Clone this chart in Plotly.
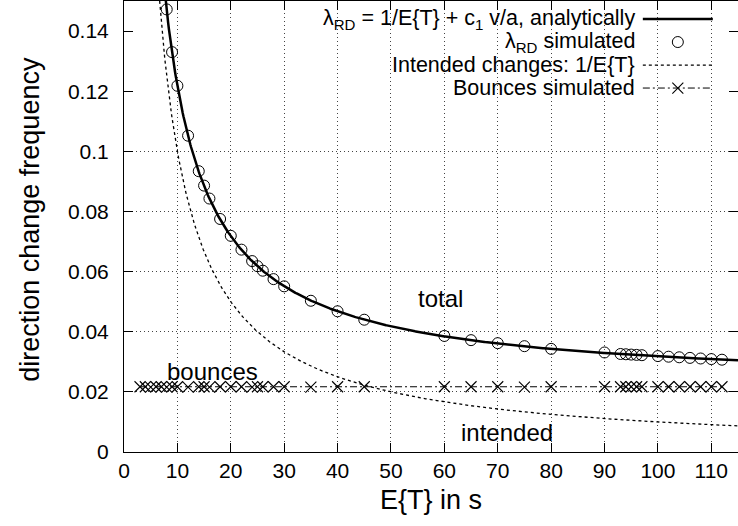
import numpy as np
import plotly.graph_objects as go

# ---------------- data ----------------
C1_V_OVER_A = 0.0218   # bounce contribution c1 v/a (constant)

# simulated total direction-change frequency lambda_RD
sim_T = [8, 9, 10, 12, 14, 15, 16, 18, 20, 22, 24, 25, 26, 28, 30, 35, 40, 45,
         60, 65, 70, 75, 80, 90, 93, 94, 95, 96, 97,
         100, 102, 104, 106, 108, 110, 112]
sim_lambda = [0.1472, 0.1330, 0.1218, 0.1052, 0.0934, 0.0886, 0.0843, 0.0775, 0.0719,
              0.0673, 0.0635, 0.0618, 0.0603, 0.0575, 0.0551, 0.0503, 0.0468, 0.0440,
              0.0386, 0.0372, 0.0362, 0.0352, 0.0343, 0.0331, 0.0326, 0.0325, 0.0324,
              0.0323, 0.0322, 0.0319, 0.0317, 0.0315, 0.0313, 0.0311, 0.0309, 0.0307]

# simulated bounce frequency
bounce_T = [3, 4, 5, 6, 7, 8, 9, 10, 12, 14, 15, 16, 18, 20, 22, 24, 25, 26, 28, 30,
            35, 40, 45, 60, 65, 70, 75, 80, 90, 93, 94, 95, 96, 97,
            100, 102, 104, 106, 108, 110, 112]
bounce_rate = [0.0217, 0.0217, 0.0216, 0.0217, 0.0217, 0.0216, 0.0217, 0.0217, 0.0216, 0.0217,
               0.0217, 0.0216, 0.0217, 0.0217, 0.0217, 0.0216, 0.0217, 0.0217, 0.0217, 0.0217,
               0.0216, 0.0217, 0.0217, 0.0217, 0.0217, 0.0217, 0.0216, 0.0217, 0.0217, 0.0217,
               0.0217, 0.0217, 0.0217, 0.0217, 0.0217, 0.0217, 0.0217, 0.0217, 0.0217, 0.0217,
               0.0217]

# axis ticks
x_ticks = [0, 10, 20, 30, 40, 50, 60, 70, 80, 90, 100, 110]
y_ticks = [0, 0.02, 0.04, 0.06, 0.08, 0.1, 0.12, 0.14]
y_tick_labels = ["0", "0.02", "0.04", "0.06", "0.08", "0.1", "0.12", "0.14"]
y_grid = [0.02, 0.04, 0.06, 0.08, 0.1]
X_RANGE = [0, 115]
Y_RANGE = [0, 0.15]

legend_labels = ["λ<sub>RD</sub> = 1/E{T} + c<sub>1</sub> v/a, analytically",
                 "λ<sub>RD</sub> simulated",
                 "Intended changes: 1/E{T}",
                 "Bounces simulated"]

# analytic function curves (sampled like gnuplot does)
T_fun = np.linspace(1, 115, 800)
lam_analytic = 1.0 / T_fun + C1_V_OVER_A
lam_intended = 1.0 / T_fun

# ---------------- style ----------------
FONT = "Liberation Sans, Arial, Helvetica, sans-serif"
TICK_FS = 21
KEY_FS = 21.5
ANN_FS = 24
TITLE_FS = 27
GRID_COLOR = "#444444"
GRID_DASH = "1px,3px"
BOUNCE_DASH = "7px,3px,2px,3px"
DOT_DASH = "3px,3px"

fig = go.Figure()

fig.add_trace(go.Scatter(x=T_fun, y=lam_analytic, mode="lines",
                         line=dict(color="black", width=2.5), showlegend=False))
fig.add_trace(go.Scatter(x=sim_T, y=sim_lambda, mode="markers",
                         marker=dict(symbol="circle-open", size=11, color="black",
                                     line=dict(width=1, color="black")),
                         showlegend=False, cliponaxis=True))
fig.add_trace(go.Scatter(x=T_fun, y=lam_intended, mode="lines",
                         line=dict(color="black", width=1.3, dash=DOT_DASH), showlegend=False))
fig.add_trace(go.Scatter(x=bounce_T, y=bounce_rate, mode="lines+markers",
                         line=dict(color="black", width=1, dash=BOUNCE_DASH),
                         marker=dict(symbol="x-thin-open", size=11, color="black",
                                     line=dict(width=1.1, color="black")),
                         showlegend=False, cliponaxis=True))

# ---- manual gnuplot-style key (text right, sample on the right) on hidden overlay axes ----
KEY_TEXT_X = 0.836
KEY_X0, KEY_X1 = 0.845, 0.959
KEY_ROWS = [0.960, 0.909, 0.858, 0.807]
key_mid = (KEY_X0 + KEY_X1) / 2

fig.add_trace(go.Scatter(x=[KEY_X0, KEY_X1], y=[KEY_ROWS[0]] * 2, mode="lines",
                         line=dict(color="black", width=2.5), xaxis="x2", yaxis="y2",
                         showlegend=False))
fig.add_trace(go.Scatter(x=[key_mid], y=[KEY_ROWS[1]], mode="markers",
                         marker=dict(symbol="circle-open", size=11, color="black",
                                     line=dict(width=1, color="black")),
                         xaxis="x2", yaxis="y2", showlegend=False))
fig.add_trace(go.Scatter(x=[KEY_X0, KEY_X1], y=[KEY_ROWS[2]] * 2, mode="lines",
                         line=dict(color="black", width=1.3, dash=DOT_DASH),
                         xaxis="x2", yaxis="y2", showlegend=False))
fig.add_trace(go.Scatter(x=[KEY_X0, KEY_X1], y=[KEY_ROWS[3]] * 2, mode="lines",
                         line=dict(color="black", width=1, dash=BOUNCE_DASH),
                         xaxis="x2", yaxis="y2", showlegend=False))
fig.add_trace(go.Scatter(x=[key_mid], y=[KEY_ROWS[3]], mode="markers",
                         marker=dict(symbol="x-thin-open", size=11, color="black",
                                     line=dict(width=1.1, color="black")),
                         xaxis="x2", yaxis="y2", showlegend=False))

annotations = []
for lab, yy in zip(legend_labels, KEY_ROWS):
    annotations.append(dict(x=KEY_TEXT_X, y=yy, xref="paper", yref="paper", text=lab,
                            showarrow=False, xanchor="right", yanchor="middle",
                            font=dict(size=KEY_FS, color="black", family=FONT)))

# in-plot labels
for txt, xx, yy in [("total", 59.3, 0.0511), ("bounces", 16.6, 0.0268), ("intended", 71.7, 0.0066)]:
    annotations.append(dict(x=xx, y=yy, xref="x", yref="y", text=txt, showarrow=False,
                            xanchor="center", yanchor="middle",
                            font=dict(size=ANN_FS, color="black", family=FONT)))

# axis titles
annotations.append(dict(x=0.5, y=-0.107, xref="paper", yref="paper", text="E{T} in s",
                        showarrow=False, xanchor="center", yanchor="middle",
                        font=dict(size=TITLE_FS, color="black", family=FONT)))
annotations.append(dict(x=-0.153, y=0.515, xref="paper", yref="paper",
                        text="direction change frequency", textangle=-90,
                        showarrow=False, xanchor="center", yanchor="middle",
                        font=dict(size=TITLE_FS, color="black", family=FONT)))

fig.update_layout(
    width=738, height=526,
    margin=dict(l=124, r=0, t=1, b=74),
    paper_bgcolor="white", plot_bgcolor="white",
    font=dict(family=FONT, color="black", size=TICK_FS),
    showlegend=False,
    hovermode=False,
    annotations=annotations,
    xaxis=dict(range=X_RANGE, tickvals=x_ticks, ticks="inside", ticklen=9, tickwidth=1,
               tickcolor="black", showline=True, linecolor="black", linewidth=1,
               mirror="ticks", showgrid=True, gridcolor=GRID_COLOR, griddash=GRID_DASH,
               gridwidth=1, zeroline=False, ticklabelstandoff=0, automargin=False,
               tickfont=dict(size=TICK_FS, family=FONT, color="black")),
    yaxis=dict(range=Y_RANGE, tickvals=y_ticks, ticktext=y_tick_labels, ticks="inside",
               ticklen=9, tickwidth=1, tickcolor="black", showline=True, linecolor="black",
               linewidth=1, mirror="ticks", showgrid=False, zeroline=False,
               ticklabelstandoff=10, automargin=False,
               tickfont=dict(size=TICK_FS, family=FONT, color="black")),
    yaxis3=dict(range=Y_RANGE, overlaying="y", tickvals=y_grid, showticklabels=False,
                ticks="", showline=False, showgrid=True, gridcolor=GRID_COLOR,
                griddash=GRID_DASH, gridwidth=1, zeroline=False, automargin=False),
    xaxis2=dict(range=[0, 1], overlaying="x", visible=False, anchor="y2", automargin=False),
    yaxis2=dict(range=[0, 1], overlaying="y", visible=False, anchor="x2", automargin=False),
)

# attach an invisible trace to yaxis3 so its grid is drawn
fig.add_trace(go.Scatter(x=[None], y=[None], yaxis="y3", showlegend=False, hoverinfo="skip"))

fig.write_html("out.html", config={"displayModeBar": False, "staticPlot": True},
               post_script="document.body.style.margin='0px';")
